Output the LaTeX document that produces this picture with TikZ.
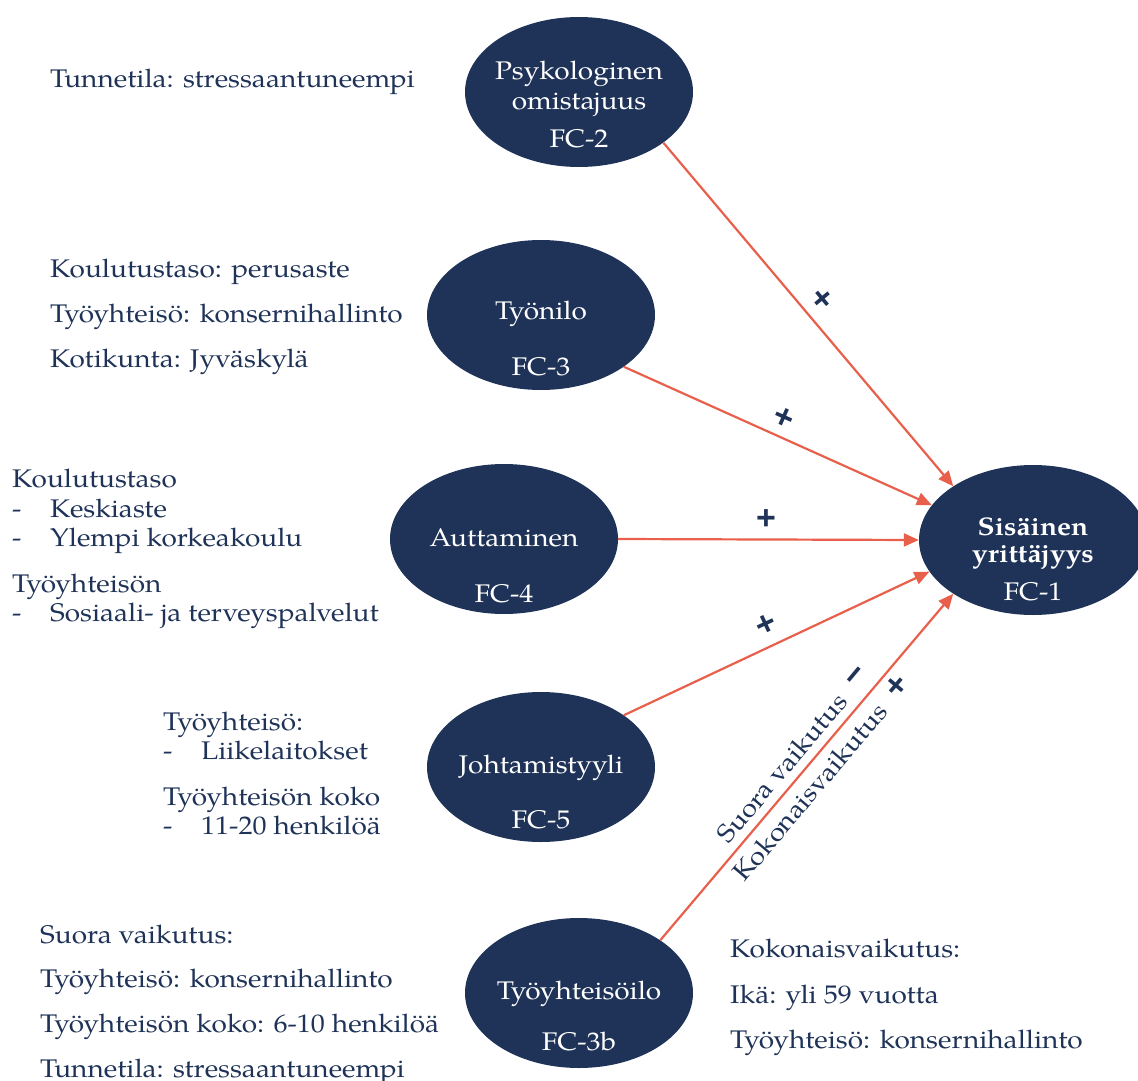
\documentclass[tikz,border=0pt]{standalone}
\usepackage{fontspec}
\setmainfont{TeX Gyre Pagella}[FakeStretch=1.1]
\newfontfamily\signfont{Liberation Sans}
\usetikzlibrary{arrows.meta,shapes.geometric}
\definecolor{navy}{HTML}{1F3358}
\definecolor{arrowred}{HTML}{E8604C}
\newcommand{\bul}[1]{\makebox[38pt][l]{-}#1}
\begin{document}
\begin{tikzpicture}[x=1pt,y=-1pt,
  factor/.style={ellipse, fill=navy, draw=none, minimum width=228pt, minimum height=150pt, inner sep=0pt},
  intext/.style={anchor=base, text=white, inner sep=0pt, font=\fontsize{25.5}{30}\selectfont},
  link/.style={draw=arrowred, line width=2.2pt, -{Triangle[length=15pt,width=13pt]}},
  note/.style={anchor=base west, text=navy, inner sep=0pt, font=\fontsize{25.5}{30}\selectfont},
  sign/.style={text=navy, inner sep=0pt, font=\signfont\bfseries\fontsize{34}{34}\selectfont}
]
\useasboundingbox (0,0) rectangle (1138,1081);

% factor ellipses
\node[factor] (fc2) at (579,92) {};
\node[factor] (fc3) at (541,315) {};
\node[factor] (fc4) at (504,539) {};
\node[factor] (fc5) at (541,767) {};
\node[factor] (fc3b) at (579,993) {};
\node[factor] (fc1) at (1033,540) {};

% ellipse captions
\node[intext] (t2a) at (579,80) {Psykologinen};
\node[intext] (t2b) at (579,110) {omistajuus};
\node[intext] (t2c) at (579,147) {FC-2};
\node[intext] (t3a) at (541,319) {Työnilo};
\node[intext] (t3b) at (541,375) {FC-3};
\node[intext] (t4a) at (504,546) {Auttaminen};
\node[intext] (t4b) at (504,602) {FC-4};
\node[intext] (t5a) at (541,773) {Johtamistyyli};
\node[intext] (t5b) at (541,828) {FC-5};
\node[intext] (t6a) at (579,999) {Työyhteisöilo};
\node[intext] (t6b) at (579,1050) {FC-3b};
\node[intext,font=\bfseries\fontsize{25.5}{30}\selectfont] (t1a) at (1033,535) {Sisäinen};
\node[intext,font=\bfseries\fontsize{25.5}{30}\selectfont] (t1b) at (1033,562) {yrittäjyys};
\node[intext] (t1c) at (1033,600) {FC-1};

% effects on FC-1
\draw[link] (fc2.-31) -- (fc1.146.6);
\draw[link] (fc3.-32) -- (fc1.161);
\draw[link] (fc4.0) -- (fc1.180);
\draw[link] (fc5.32) -- (fc1.197);
\draw[link] (fc3b.33.5) -- (fc1.214);

% signs of the effects
\node[sign,rotate=-50] (s2) at (822,300) {+};
\node[sign,rotate=-24] (s3) at (784,418) {+};
\node[sign] (s4) at (766,520) {+};
\node[sign,rotate=25] (s5) at (766,625) {+};
\node[sign,rotate=50] (s6a) at (858,678) {−};
\node[sign,rotate=50] (s6b) at (897,686) {+};
\node[text=navy,inner sep=0pt,rotate=49.8,font=\fontsize{25.5}{30}\selectfont] (sv) at (782,768) {Suora vaikutus};
\node[text=navy,inner sep=0pt,rotate=49.8,font=\fontsize{25.5}{30}\selectfont] (kv) at (810,792) {Kokonaisvaikutus};

% background variables
\node[note] (n2) at (50,88) {Tunnetila: stressaantuneempi};

\node[note] (n3a) at (50,277) {Koulutustaso: perusaste};
\node[note] (n3b) at (50,322) {Työyhteisö: konsernihallinto};
\node[note] (n3c) at (50,367) {Kotikunta: Jyväskylä};

\node[note] (n4a) at (12,487) {Koulutustaso};
\node[note] (n4b) at (12,517) {\bul{Keskiaste}};
\node[note] (n4c) at (12,546) {\bul{Ylempi korkeakoulu}};
\node[note] (n4d) at (12,592) {Työyhteisön};
\node[note] (n4e) at (12,621) {\bul{Sosiaali- ja terveyspalvelut}};

\node[note] (n5a) at (163,730) {Työyhteisö:};
\node[note] (n5b) at (163,759) {\bul{Liikelaitokset}};
\node[note] (n5c) at (163,805) {Työyhteisön koko};
\node[note] (n5d) at (163,834) {\bul{11-20 henkilöä}};

\node[note] (n6a) at (40,943) {Suora vaikutus:};
\node[note] (n6b) at (40,987) {Työyhteisö: konsernihallinto};
\node[note] (n6c) at (40,1032) {Työyhteisön koko: 6-10 henkilöä};
\node[note] (n6d) at (40,1077) {Tunnetila: stressaantuneempi};

\node[note] (n7a) at (730,957) {Kokonaisvaikutus:};
\node[note] (n7b) at (730,1003) {Ikä: yli 59 vuotta};
\node[note] (n7c) at (730,1048) {Työyhteisö: konsernihallinto};
\end{tikzpicture}
\end{document}
